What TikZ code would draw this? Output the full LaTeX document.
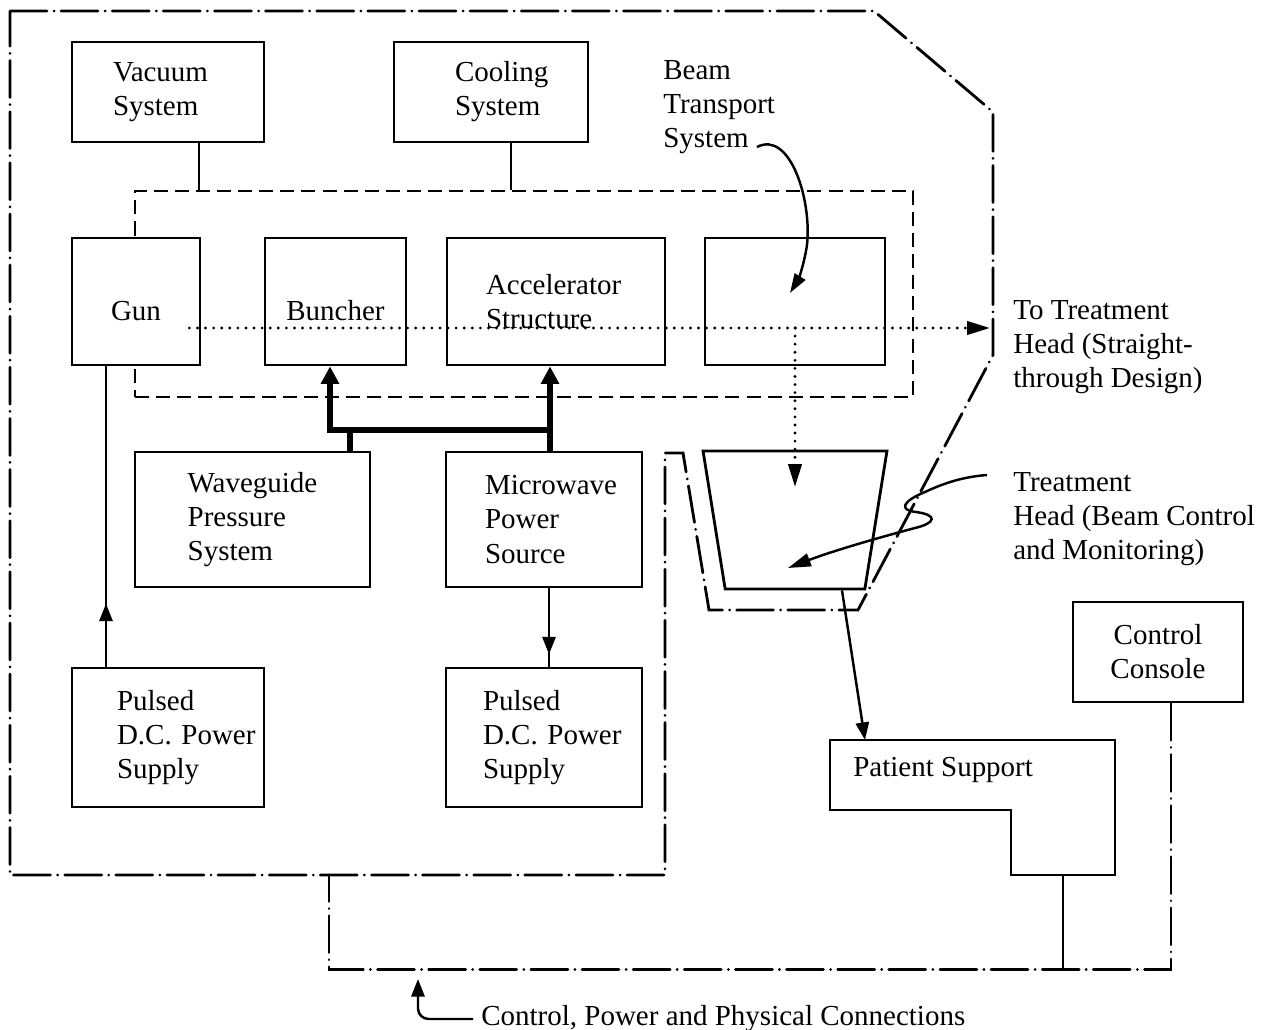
\documentclass[tikz,border=0pt]{standalone}
\usepackage{fontspec}
\setmainfont{Liberation Serif}
\usetikzlibrary{arrows.meta,shapes.geometric}
\hyphenpenalty=10000

\begin{document}
\begin{tikzpicture}[x=0.02cm,y=-0.02cm,
    every node/.style={font=\fontsize{16.5}{19.4}\selectfont},
    unit/.style={rectangle,draw,line width=1.6pt,fill=white,
                 align=left,inner sep=0pt},
    lbl/.style={align=left,inner sep=0pt,anchor=west},
    bound/.style={line width=1.6pt,line cap=round,
                  dash pattern=on 21pt off 4pt on 0.1pt off 4pt},
    link/.style={line width=1.4pt},
    feed/.style={line width=3.4pt},
    beam/.style={line width=1.8pt,line cap=round,dash pattern=on 0pt off 4.6pt},
    tipS/.style={-{Triangle[length=10pt,width=7.5pt]}},
    tipM/.style={-{Triangle[length=11pt,width=7pt]}},
    tipL/.style={-{Triangle[length=13pt,width=7.5pt]}},
    tipF/.style={-{Triangle[length=10pt,width=10pt]}}]
  \fill[white] (0,0) rectangle (1285,1030);
  \useasboundingbox (0,0) rectangle (1285,1030);

  % machine boundary and treatment head envelope
  \draw[bound] (10,11) -- (874,11) -- (993,112) -- (993,355) -- (858,610)
    -- (709,610) -- (683,453) -- (665,453) -- (665,875) -- (10,875) -- cycle;

  % accelerator vacuum envelope
  \node[draw,line width=1.5pt,dash pattern=on 8pt off 4pt,inner sep=0pt,
        minimum width=15.56cm,minimum height=4.12cm] (lin) at (524,294) {};

  \node[unit,text width=2.2cm,minimum width=3.84cm,minimum height=2cm]
    (vac) at (168,92) {Vacuum\\System};
  \node[unit,text width=1.44cm,minimum width=3.88cm,minimum height=2cm]
    (cool) at (491,92) {Cooling\\System};
  \node[unit,minimum width=2.56cm,minimum height=2.54cm,
        text height=0.78cm,text depth=0pt] (gun) at (136,301.5) {Gun};
  \node[unit,minimum width=2.82cm,minimum height=2.54cm,
        text height=0.78cm,text depth=0pt] (bun) at (335.5,301.5) {Buncher};
  \node[unit,text width=2.8cm,minimum width=4.36cm,minimum height=2.54cm]
    (acc) at (556,301.5) {Accelerator\\Structure};
  \node[unit,minimum width=3.6cm,minimum height=2.54cm] (btb) at (795,301.5) {};
  \node[unit,minimum width=4.7cm,minimum height=2.7cm] (wg) at (252.5,519.5)
    {Waveguide\\Pressure\\System};
  \node[unit,text width=2.36cm,minimum width=3.92cm,minimum height=2.7cm]
    (mw) at (544,519.5) {Microwave\\Power\\Source};
  \node[unit,text width=2.04cm,minimum width=3.84cm,minimum height=2.78cm]
    (pl) at (168,737.5) {Pulsed\\D.C.~Power\\Supply};
  \node[unit,text width=2.44cm,minimum width=3.92cm,minimum height=2.78cm]
    (pr) at (544,737.5) {Pulsed\\D.C.~Power\\Supply};
  \node[unit,align=center,minimum width=3.4cm,minimum height=2cm]
    (con) at (1158,652) {Control\\Console};
  \node[trapezium,draw,line width=1.6pt,fill=white,inner sep=4pt,
        trapezium stretches=true,trapezium angle=81,shape border rotate=180,
        minimum width=3.68cm,minimum height=2.76cm] (head) at (795,520) {};

  % services to the envelope
  \coordinate (vac-leg) at ([xshift=0.62cm]vac.south);
  \coordinate (cool-leg) at ([xshift=0.4cm]cool.south);
  \draw[link] (vac-leg) -- (vac-leg |- lin.north);
  \draw[link] (cool-leg) -- (cool-leg |- lin.north);

  % power feeds
  \coordinate (gun-leg) at ([xshift=-1.24cm]pl.north);
  \draw[link] (gun-leg) -- (gun-leg |- gun.south);
  \draw[link,tipS] (gun-leg) -- ++(0,-63);
  \coordinate (mw-leg) at ([xshift=0.1cm]mw.south);
  \draw[link] (mw-leg) -- (mw-leg |- pr.north);
  \draw[link,tipS] (mw-leg) -- ++(0,66);

  % waveguide
  \coordinate (jl) at (330,430);
  \coordinate (jr) at (550,430);
  \coordinate (wg-leg) at ([xshift=1.95cm]wg.north);
  \draw[feed] (wg-leg) -- (wg-leg |- jl);
  \draw[feed,line cap=rect] (jl) -- (jr);
  \draw[feed,tipF] (jl) -- (jl |- bun.south);
  \draw[feed,tipF] (jr |- mw.north) -- (jr |- acc.south);

  % electron beam
  \coordinate (exit) at (990,328);
  \draw[beam,tipL] ([shift={(-12,26.5)}]gun.east) -- (exit);
  \draw[beam,tipL] (head.center |- exit) -- ([yshift=0.66cm]head.center);

  % patient support
  \draw[line width=1.6pt] (830,740) -- (1115,740) -- (1115,875) -- (1011,875)
    -- (1011,810) -- (830,810) -- cycle;
  \node[lbl] (ps) at (853,770) {Patient Support};
  \coordinate (ps-in) at (865,740);
  \coordinate (ps-foot) at (1063,875);
  \draw[link,tipS] ([xshift=0.94cm]head.south) -- (ps-in);
  \draw[link] (ps-foot) -- ++(0,93);

  % control connections
  \coordinate (tap) at (329,875);
  \draw[bound] ([xshift=0.26cm]con.south) -- ++(0,266) -| (tap);

  % callouts
  \node[lbl] (btl) at (663,107) {Beam\\Transport\\System};
  \coordinate (btl-tail) at (757,147);
  \draw[link,tipM] (btl-tail) .. controls (790,130) and (812,200) .. (807,245)
    .. controls (804,265) and (798,280) .. (790,293);
  \node[lbl] (tth) at (1013,347) {To Treatment\\Head (Straight-\\through Design)};
  \node[lbl] (thl) at (1013,519) {Treatment\\Head (Beam Control\\and Monitoring)};
  \coordinate (thl-tail) at (987,475);
  \draw[link,tipL] (thl-tail) .. controls (960,477) and (940,485) .. (925,492)
    .. controls (903,501) and (898,510) .. (916,512)
    .. controls (938,515) and (936,523) .. (915,528)
    .. controls (870,540) and (830,552) .. (788,568);
  \node[lbl] (cpl) at (481,1019) {Control, Power and Physical Connections};
  \coordinate (cpl-tip) at (418,979);
  \draw[link,tipS,rounded corners=6pt] ([xshift=-0.16cm]cpl.west) -| (cpl-tip);
\end{tikzpicture}
\end{document}
